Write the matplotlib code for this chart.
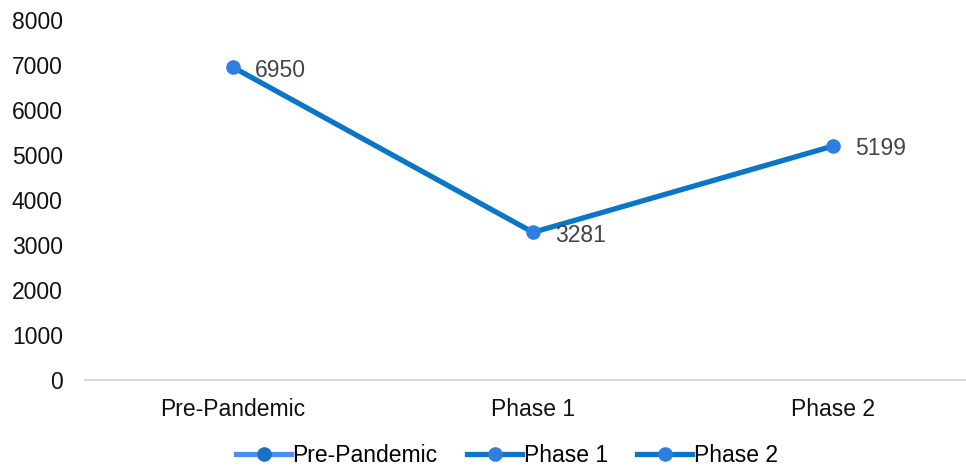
import matplotlib.pyplot as plt
from matplotlib.lines import Line2D

phases = ["Pre-Pandemic", "Phase 1", "Phase 2"]
counts = [6950, 3281, 5199]
y_ticks = [0, 1000, 2000, 3000, 4000, 5000, 6000, 7000, 8000]

line_col = "#0b76c6"
dot_col = "#2f7fe2"
fs = 16.5

plt.rcParams['font.family'] = ['Liberation Sans', 'DejaVu Sans']

fig = plt.figure(figsize=(9.66, 4.68), dpi=100)
ax = fig.add_axes([85 / 966, 1 - 380 / 468, 881 / 966, 360 / 468])

x = list(range(len(phases)))
ax.plot(x, counts, color=line_col, lw=3.8, marker="o", ms=9.5,
        mfc=dot_col, mec=dot_col, solid_capstyle="round", zorder=3)

for xi, v in zip(x, counts):
    ax.annotate(str(v), (xi, v), xytext=(16, -2), textcoords="offset points",
                ha="left", va="center", fontsize=fs, color="#444444")

ax.set_xlim(-148 / 300, 733 / 300)
ax.set_ylim(0, 8000)
ax.set_yticks(y_ticks)
ax.set_xticks(x)
ax.set_xticklabels(phases)
ax.tick_params(axis="both", length=0, labelsize=fs, colors="#111111")
ax.tick_params(axis="y", pad=16)
ax.tick_params(axis="x", pad=13)

for s in ["top", "right", "left"]:
    ax.spines[s].set_visible(False)
ax.spines["bottom"].set_color("#d9d9d9")
ax.spines["bottom"].set_linewidth(1.5)

handles = [
    Line2D([], [], color="#4a8ef2", lw=3.8, marker="o", ms=9.5,
           mfc="#1a70c4", mec="#1a70c4"),
    Line2D([], [], color=line_col, lw=3.8, marker="o", ms=9.5,
           mfc=dot_col, mec=dot_col),
    Line2D([], [], color=line_col, lw=3.8, marker="o", ms=9.5,
           mfc=dot_col, mec=dot_col),
]
fig.legend(handles, phases, loc="center", bbox_to_anchor=(507 / 966, 1 - 456 / 468),
           ncol=3, frameon=False, fontsize=fs, handlelength=2.4,
           handletextpad=0.05, columnspacing=1.3)

fig.savefig("out.png", dpi=100)
